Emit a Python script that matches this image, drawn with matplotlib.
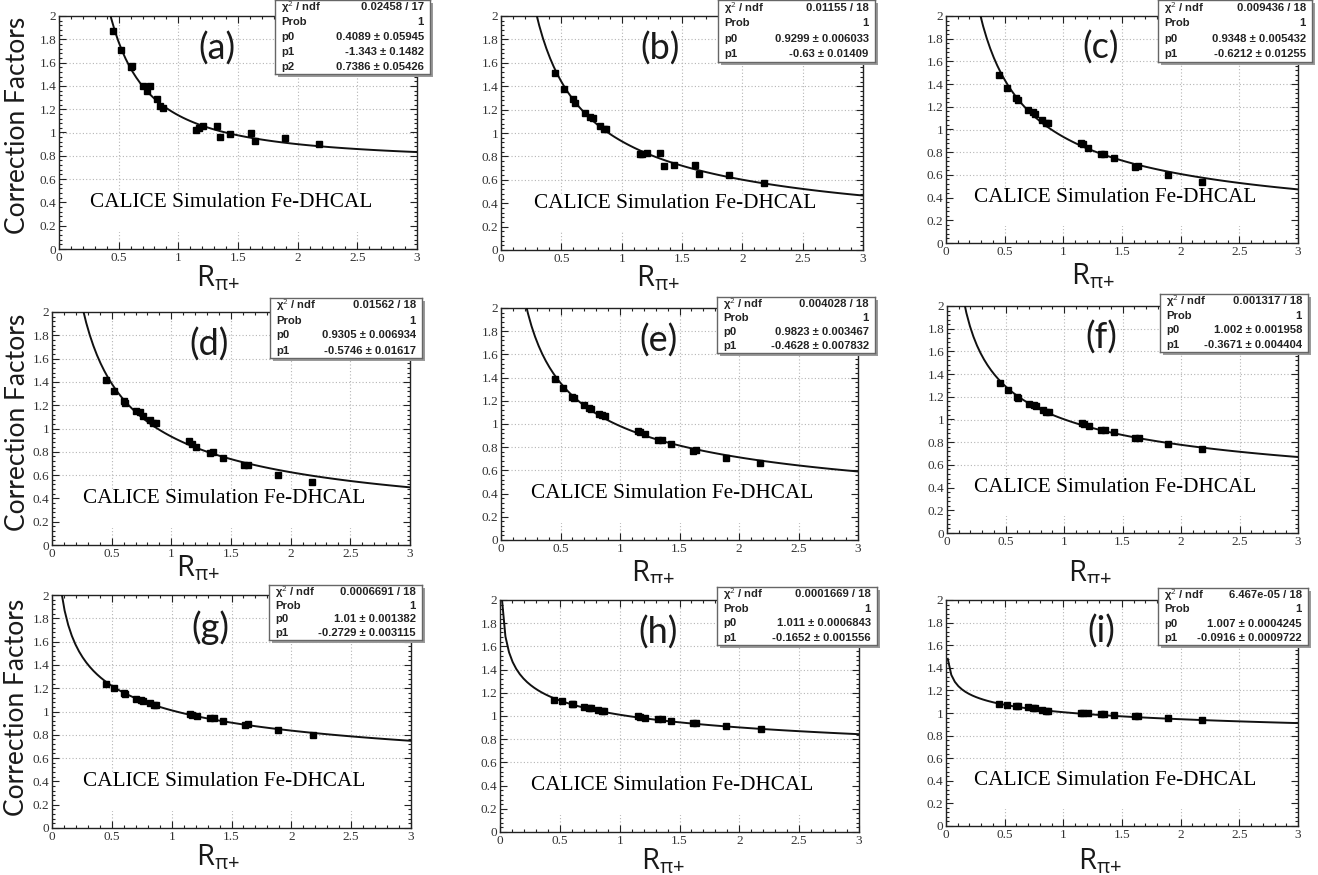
import numpy as np
import matplotlib
matplotlib.use('Agg')
import matplotlib.pyplot as plt
from matplotlib.patches import Rectangle
from matplotlib.ticker import MultipleLocator, FuncFormatter

plt.rcParams['mathtext.fontset'] = 'custom'
plt.rcParams['mathtext.rm'] = 'Open Sans'

W, H = 1318, 875

# R_pi+ of the simulated points (same for every panel)
r_pi = [0.45, 0.52, 0.60, 0.61, 0.70, 0.74, 0.76, 0.82, 0.85, 0.87,
        1.15, 1.17, 1.21, 1.32, 1.35, 1.43, 1.61, 1.64, 1.89, 2.18]

# correction factors per panel
cf_a = [1.87, 1.71, 1.56, 1.57, 1.40, 1.36, 1.40, 1.29, 1.23, 1.21,
        1.02, 1.04, 1.06, 1.06, 0.96, 0.99, 1.00, 0.93, 0.95, 0.90]
cf_b = [1.51, 1.38, 1.29, 1.26, 1.17, 1.14, 1.13, 1.06, 1.03, 1.03,
        0.82, 0.82, 0.83, 0.83, 0.72, 0.73, 0.73, 0.65, 0.64, 0.57]
cf_c = [1.48, 1.37, 1.28, 1.26, 1.17, 1.15, 1.14, 1.08, 1.06, 1.06,
        0.88, 0.87, 0.84, 0.78, 0.78, 0.75, 0.67, 0.68, 0.60, 0.54]
cf_d = [1.42, 1.32, 1.24, 1.22, 1.15, 1.14, 1.11, 1.07, 1.05, 1.05,
        0.89, 0.87, 0.84, 0.79, 0.80, 0.75, 0.69, 0.69, 0.60, 0.54]
cf_e = [1.39, 1.31, 1.23, 1.22, 1.16, 1.14, 1.13, 1.09, 1.08, 1.07,
        0.94, 0.93, 0.91, 0.86, 0.86, 0.83, 0.77, 0.78, 0.71, 0.66]
cf_f = [1.32, 1.26, 1.20, 1.19, 1.14, 1.13, 1.12, 1.08, 1.07, 1.07,
        0.97, 0.96, 0.94, 0.91, 0.91, 0.89, 0.84, 0.84, 0.78, 0.74]
cf_g = [1.24, 1.20, 1.16, 1.15, 1.11, 1.10, 1.09, 1.07, 1.06, 1.06,
        0.98, 0.97, 0.96, 0.94, 0.94, 0.92, 0.88, 0.89, 0.84, 0.80]
cf_h = [1.14, 1.13, 1.10, 1.10, 1.08, 1.07, 1.07, 1.05, 1.04, 1.04,
        1.00, 0.99, 0.98, 0.97, 0.97, 0.96, 0.94, 0.94, 0.91, 0.89]
cf_i = [1.08, 1.07, 1.06, 1.06, 1.05, 1.04, 1.04, 1.03, 1.02, 1.02,
        1.00, 1.00, 1.00, 0.99, 0.99, 0.98, 0.97, 0.97, 0.96, 0.94]
cf_all = [cf_a, cf_b, cf_c, cf_d, cf_e, cf_f, cf_g, cf_h, cf_i]

panel_labels = ['(a)', '(b)', '(c)', '(d)', '(e)', '(f)', '(g)', '(h)', '(i)']

# fit results: p0 * x^p1 (+ p2 for panel a)
chi2_ndf = ['0.02458 / 17', '0.01155 / 18', '0.009436 / 18', '0.01562 / 18',
            '0.004028 / 18', '0.001317 / 18', '0.0006691 / 18',
            '0.0001669 / 18', '6.467e-05 / 18']
p0_val = [0.4089, 0.9299, 0.9348, 0.9305, 0.9823, 1.002, 1.01, 1.011, 1.007]
p0_err = [0.05945, 0.006033, 0.005432, 0.006934, 0.003467, 0.001958,
          0.001382, 0.0006843, 0.0004245]
p1_val = [-1.343, -0.63, -0.6212, -0.5746, -0.4628, -0.3671, -0.2729,
          -0.1652, -0.0916]
p1_err = [0.1482, 0.01409, 0.01255, 0.01617, 0.007832, 0.004404, 0.003115,
          0.001556, 0.0009722]
p2_val = [0.7386, None, None, None, None, None, None, None, None]
p2_err = [0.05426, None, None, None, None, None, None, None, None]

# layout in pixels: left, top, right, bottom
axes_px = [(59, 16, 417, 249), (501, 16, 863, 250), (946, 16, 1298, 243),
           (52, 312, 410, 545), (501, 308, 858, 540), (947, 306, 1298, 533),
           (52, 595, 411, 828), (500, 600, 859, 832), (946, 600, 1298, 826)]
box_px = [(275, 0, 430, 74), (718, 0, 875, 62), (1158, 0, 1312, 62),
          (270, 298, 422, 358), (717, 297, 875, 353), (1160, 294, 1308, 352),
          (269, 585, 422, 640), (717, 587, 877, 645), (1158, 588, 1308, 645)]
xlab_px = [(218, 278), (658, 278), (1093, 276),
           (198, 568), (653, 573), (1090, 573),
           (218, 857), (663, 861), (1100, 861)]
ylab_px = {0: (18, 125), 3: (18, 422), 6: (17, 707)}


def fig_rect(l, t, r, b):
    return [l / W, 1 - b / H, (r - l) / W, (b - t) / H]


fig = plt.figure(figsize=(W / 100, H / 100), dpi=100)
fig.patch.set_facecolor('white')

x_fit = np.linspace(0.015, 3, 100)
fmt = FuncFormatter(lambda v, pos: f'{v:g}')

for k in range(9):
    ax = fig.add_axes(fig_rect(*axes_px[k]))
    ax.set_xlim(0, 3)
    ax.set_ylim(0, 2)

    # dotted grid
    for gx in np.arange(0.5, 3, 0.5):
        ax.axvline(gx, color='#b5b5b5', lw=0.8, ls=(0, (1, 2)), zorder=0.5)
    for gy in np.arange(0.2, 2, 0.2):
        ax.axhline(gy, color='#b5b5b5', lw=0.8, ls=(0, (1, 2)), zorder=0.5)

    # white field behind the caption
    ax.add_patch(Rectangle((0.012, 0.075), 0.976, 0.16, transform=ax.transAxes,
                           facecolor='white', edgecolor='none', zorder=1))

    y = np.array(cf_all[k])
    fit = p0_val[k] * x_fit ** p1_val[k]
    if p2_val[k] is not None:
        fit = fit + p2_val[k]
    ax.plot(x_fit, fit, color='#111111', lw=1.4, zorder=3)
    ax.plot(r_pi, y, ls='none', marker='s', ms=4.5, color='black', zorder=4)

    ax.xaxis.set_major_locator(MultipleLocator(0.5))
    ax.xaxis.set_minor_locator(MultipleLocator(0.1))
    ax.yaxis.set_major_locator(MultipleLocator(0.2))
    ax.yaxis.set_minor_locator(MultipleLocator(0.04))
    ax.xaxis.set_major_formatter(fmt)
    ax.yaxis.set_major_formatter(fmt)
    ax.tick_params(which='both', direction='in', top=True, right=True,
                   color='#222222', width=0.8)
    ax.tick_params(which='major', length=5)
    ax.tick_params(which='minor', length=2.5)
    ax.tick_params(axis='both', labelsize=9.5, labelcolor='#333333', pad=2)
    for lab in ax.get_xticklabels() + ax.get_yticklabels():
        lab.set_family('Liberation Serif')
    for sp in ax.spines.values():
        sp.set_linewidth(1.0)
        sp.set_color('#222222')

    ax.text(0.44, 0.86, panel_labels[k], transform=ax.transAxes, ha='center',
            va='center', fontsize=26, family='Lato', color='#1a1a1a', zorder=5)
    ax.text(0.48, 0.2, 'CALICE Simulation Fe-DHCAL', transform=ax.transAxes,
            ha='center', va='center', fontsize=15.3, family='Liberation Serif',
            color='black', zorder=5)

    # x title
    xl, yl = xlab_px[k]
    fig.text(xl / W, 1 - yl / H, r'$\mathrm{R_{π{+}}}$', ha='center', va='center',
             fontsize=21, color='#1a1a1a')

    if k in ylab_px:
        yx, yy = ylab_px[k]
        fig.text(yx / W, 1 - yy / H, 'Correction Factors', rotation=90,
                 ha='center', va='center', fontsize=19, family='Lato',
                 color='#1a1a1a')

    # fit statistics box with shadow
    l, t, r, b = box_px[k]
    fig.patches.append(Rectangle(((l + 3) / W, 1 - (b + 3) / H), (r - l) / W,
                                 (b - t) / H, transform=fig.transFigure,
                                 facecolor='#9a9a9a', edgecolor='none', zorder=9))
    bx = fig.add_axes(fig_rect(l, t, r, b), zorder=10)
    bx.set_xticks([])
    bx.set_yticks([])
    bx.set_facecolor('white')
    for sp in bx.spines.values():
        sp.set_color('#666666')
        sp.set_linewidth(1.0)
    rows = [(r'χ$^{2}$ / ndf', chi2_ndf[k]), ('Prob', '1'),
            ('p0', f'{p0_val[k]:g} ± {p0_err[k]:g}'),
            ('p1', f'{p1_val[k]:g} ± {p1_err[k]:g}')]
    if p2_val[k] is not None:
        rows.append(('p2', f'{p2_val[k]:g} ± {p2_err[k]:g}'))
    n = len(rows)
    for j, (name, val) in enumerate(rows):
        yy = 1 - (j + 0.5) / n
        bx.text(0.04, yy, name, transform=bx.transAxes, ha='left', va='center',
                fontsize=8.1, fontweight='bold', family='Liberation Sans',
                color='#222222')
        bx.text(0.96, yy, val, transform=bx.transAxes, ha='right', va='center',
                fontsize=8.1, fontweight='bold', family='Liberation Sans',
                color='#222222')

# the lower row of panels sits over the ends of the middle-row x titles
for xc in (198, 653, 1090):
    fig.patches.append(Rectangle(((xc - 50) / W, 1 - 594 / H), 100 / W, 11 / H,
                                 transform=fig.transFigure, facecolor='white',
                                 edgecolor='none', zorder=5))

fig.savefig('out.png', dpi=100)
